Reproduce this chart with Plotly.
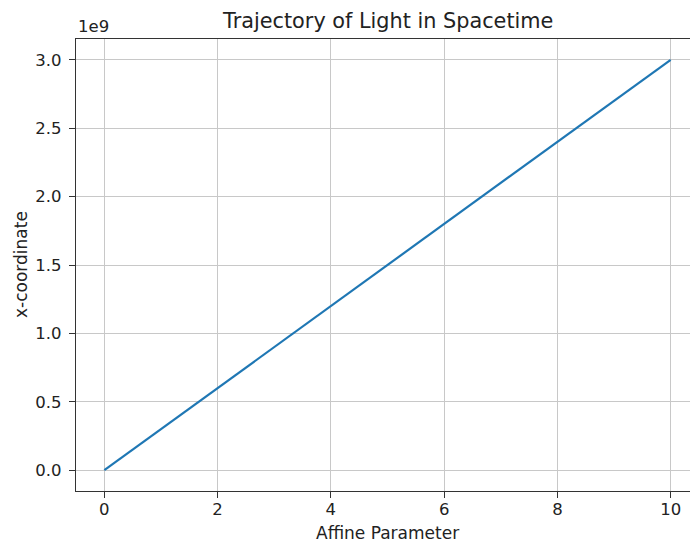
import plotly.graph_objects as go

# Light ray: x = c * lambda
affine = [0, 1, 2, 3, 4, 5, 6, 7, 8, 9, 10]
x_coord = [0, 3e8, 6e8, 9e8, 1.2e9, 1.5e9, 1.8e9, 2.1e9, 2.4e9, 2.7e9, 3.0e9]

x_ticks = [0, 2, 4, 6, 8, 10]
y_ticks = [0, 0.5e9, 1.0e9, 1.5e9, 2.0e9, 2.5e9, 3.0e9]
y_ticktext = ["0.0", "0.5", "1.0", "1.5", "2.0", "2.5", "3.0"]

font = "DejaVu Sans"
txt = "#222222"

fig = go.Figure()
fig.add_trace(go.Scatter(x=affine, y=x_coord, mode="lines",
                         line=dict(color="#1f77b4", width=2.2)))

axis_style = dict(showgrid=True, gridcolor="#c8c8c8", gridwidth=1.2,
                  showline=True, mirror=True, linecolor="#333333", linewidth=1.4,
                  ticks="outside", ticklen=6, tickwidth=1.3, tickcolor="#333333",
                  zeroline=False, automargin=False,
                  tickfont=dict(family=font, size=16.5, color=txt))

# the original figure is a bit wider than the window; its right edge is cut off
fig.update_layout(
    width=699, height=542,
    margin=dict(l=76, r=0, t=39, b=51),
    paper_bgcolor="white", plot_bgcolor="white",
    showlegend=False,
    xaxis=dict(range=[-0.5, 10.5], tickvals=x_ticks, ticklabelstandoff=-3,
               **axis_style),
    yaxis=dict(range=[-0.152e9, 3.152e9], tickvals=y_ticks, ticktext=y_ticktext,
               ticklabelstandoff=4, **axis_style),
)

# title, axis labels and the offset text, placed like matplotlib does
fig.add_annotation(text="Trajectory of Light in Spacetime", xref="paper", yref="paper",
                   x=0.5, y=1, xanchor="center", yanchor="middle", yshift=18,
                   showarrow=False, font=dict(family=font, size=20.8, color=txt))
fig.add_annotation(text="Affine Parameter", xref="paper", yref="paper",
                   x=0.5, y=0, xanchor="center", yanchor="middle", yshift=-42,
                   showarrow=False, font=dict(family=font, size=17, color=txt))
fig.add_annotation(text="x-coordinate", xref="paper", yref="paper",
                   x=0, y=0.5, xanchor="center", yanchor="middle", xshift=-55,
                   textangle=-90, showarrow=False,
                   font=dict(family=font, size=17, color=txt))
fig.add_annotation(text="1e9", xref="paper", yref="paper", x=0, y=1,
                   xanchor="left", yanchor="bottom", showarrow=False, yshift=1,
                   font=dict(family=font, size=16.5, color=txt))

fig.write_html("out.html", config={"displayModeBar": False},
               post_script="document.body.style.margin='0';"
                           "document.body.style.overflow='hidden';")
